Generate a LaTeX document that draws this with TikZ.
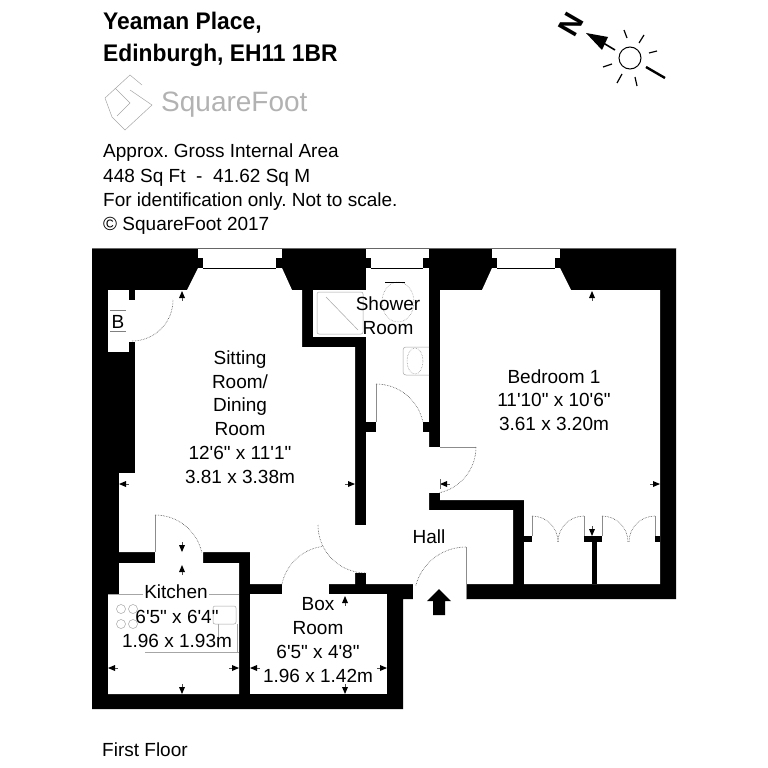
\documentclass[tikz,border=0pt]{standalone}
\usepackage{fontspec}
\newfontfamily\planfont{Liberation Sans}
\tikzset{
    wall/.style = {fill=black},
    room/.style = {fill=white},
    leaf/.style = {draw=black!45, line width=0.7pt},
    swing/.style = {draw=black!70, line width=0.6pt, densely dotted},
    fitting/.style = {draw=black!35, line width=0.5pt},
    label/.style = {font=\planfont\fontsize{19}{23.7}\selectfont, align=center, inner sep=0pt},
    note/.style = {font=\planfont\frenchspacing\fontsize{19}{24.2}\selectfont, align=left, anchor=north west, inner sep=0pt},
    title/.style = {font=\planfont\bfseries\fontsize{24}{32}\selectfont, align=left, anchor=north west, inner sep=0pt, xscale=0.95},
}
\begin{document}
\begin{tikzpicture}[x=1pt, y=-1pt]
    \useasboundingbox (0,0) rectangle (768,768);

    % walls, then the rooms cut out of them
    \fill[wall] (92,248) -- (676,248) -- (676,599) -- (403,599) -- (403,709) -- (92,709) -- cycle;
    \fill[room] (135,290) -- (187,290) -- (198,268) -- (282,268) -- (292,290) -- (302,290) -- (302,347)
        -- (355,347) -- (355,584) -- (250,584) -- (250,552) -- (203,552) -- (203,563) -- (155,563)
        -- (155,552) -- (119,552) -- (119,473) -- (135,473) -- cycle;
    \fill[room] (108,290) rectangle (129,352);
    \fill[room] (129,300) rectangle (136,342);
    \fill[room] (119,563) -- (239,563) -- (239,694) -- (108,694) -- (108,594) -- (119,594) -- cycle;
    \fill[room] (250,594) rectangle (387,694);
    \fill[room] (282,584) rectangle (329,595);
    \fill[room] (355,525) rectangle (367,573);
    \fill[room] (366,432) -- (429,432) -- (429,510) -- (513,510) -- (513,584) -- (366,584) -- cycle;
    \fill[room] (429,447) rectangle (441,493);
    \fill[room] (413,583) rectangle (466,600);
    \fill[room] (440,290) -- (482,290) -- (492,268) -- (560,268) -- (571,290) -- (660,290)
        -- (660,584) -- (524,584) -- (524,500) -- (440,500) -- cycle;
    \fill[room] (366,268) rectangle (429,422);
    \fill[room] (376,421) rectangle (423,433);
    \fill[room] (313,290) rectangle (367,337);

    % windows
    \foreach \a/\b/\c/\d in {198/203/276/282, 366/371/423/429, 492/497/555/560}{
        \fill[room] (\a,248) rectangle (\d,258);
        \fill[room] (\b,257) rectangle (\c,269);
        \draw[black, line width=0.6pt] (\b,268) -- (\c,268);
    }
    \draw[black!60, line width=0.6pt] (92,248) -- (676,248);

    % cupboards in the bedroom
    \fill[wall] (524,536) rectangle (532,542);
    \fill[wall] (584,536) rectangle (602,542);
    \fill[wall] (655,536) rectangle (660,542);
    \fill[wall] (592,542) rectangle (597,584);
    \foreach \a/\b in {532/584, 602/655}{
        \draw[leaf] (\a,536) -- (\a,516);
        \draw[leaf] (\b,536) -- (\b,516);
        \draw[swing] (\a,516) arc [start angle=-90, end angle=0, radius=26];
        \draw[swing] (\b,516) arc [start angle=-90, end angle=-180, radius=26];
    }

    % doors
    \draw[swing] (132,341) arc [start angle=90, end angle=0, radius=41];
    \draw[leaf] (155,552) -- (155,515);
    \draw[swing] (155,515) arc [start angle=-90, end angle=-13, radius=48];
    \draw[swing] (282,584) arc [start angle=-168, end angle=-97, radius=48];
    \draw[swing] (318,525) arc [start angle=180, end angle=90, radius=48];
    \draw[leaf] (376,422) -- (376,384);
    \draw[swing] (376,384) arc [start angle=-90, end angle=-13, radius=48];
    \draw[leaf] (440,447) -- (476,447);
    \draw[swing] (476,447) arc [start angle=0, end angle=78, radius=47];
    \draw[leaf] (466,599) -- (466,547);
    \draw[swing] (466,547) arc [start angle=-90, end angle=-165, radius=52];
    \fill[black] (439,589) -- (451,601) -- (445,601) -- (445,615) -- (433,615) -- (433,601) -- (427,601) -- cycle;

    % shower room fittings
    \draw[fitting, rounded corners=2pt] (317,292) rectangle (363,334);
    \draw[fitting] (326,297) -- (358,330);
    \draw[swing, draw=black!40] (398,302) ellipse (16 and 20);
    \draw[black, line width=0.5pt] (385,282) -- (405,282);
    \draw[fitting, rounded corners=3pt] (429,347) -- (403,347) -- (403,375) -- (429,375);
    \draw[swing, draw=black!40] (415,361) ellipse (8 and 13);

    % kitchen fittings
    \draw[fitting] (108,594) -- (239,594);
    \draw[fitting] (145,652) -- (239,652);
    \draw[fitting] (237,624) -- (237,652);
    \draw[fitting] (218,624) -- (218,648);
    \foreach \hx/\hy in {121/609, 133/609, 121/624, 133/624}{
        \draw[fitting] (\hx,\hy) circle (4.5);
    }
    \draw[fitting, rounded corners=2pt] (213,606) rectangle (236,624);

    % the little dimension tips
    \foreach \px/\py/\ang in {119/484/0, 355/484/180, 182/291/270, 440/484/0, 660/484/180, 592/291/270,
        592/536/90, 182/552/90, 182/565/270, 108/668/0, 239/668/180, 182/694/90,
        250/668/0, 387/668/180, 345/596/270, 345/694/90}{
        \begin{scope}[shift={(\px,\py)}, rotate=\ang]
            \fill[black] (0,0) -- (7,-3) -- (7,3) -- cycle;
            \draw[black!70, line width=0.5pt] (7,0) -- (10,0);
        \end{scope}
    }
    \draw[black!60, line width=0.5pt] (440,479) -- (440,489);

    % room names
    \node[label] (sitting) at (240,417) {Sitting\\Room/\\Dining\\Room\\12'6" x 11'1"\\3.81 x 3.38m};
    \node[label] (bedroom) at (554,400) {Bedroom 1\\11'10" x 10'6"\\3.61 x 3.20m};
    \node[label] (shower) at (388,316) {Shower\\Room};
    \node[label] (hall) at (429,537) {Hall};
    \node[label, fill=white, inner xsep=1pt, inner ysep=0pt] (kitchen) at (176,592) {Kitchen};
    \node[label] (kitchensize) at (177,629) {6'5" x 6'4"\\1.96 x 1.93m};
    \node[label] (box) at (318,640) {Box\\Room\\6'5" x 4'8"\\1.96 x 1.42m};
    \node[label] (boiler) at (118,322) {B};
    \draw[black!50, line width=0.5pt] (110,310) -- (126,310);
    \draw[black!50, line width=0.5pt] (110,331) -- (126,331);

    % heading and notes
    \node[title] (address) at (103,12) {Yeaman Place,\\Edinburgh, EH11 1BR};
    \node[note] (notes) at (103,144) {Approx. Gross Internal Area\\448 Sq Ft\ \ -\ \ 41.62 Sq M\\For identification only. Not to scale.\\© SquareFoot 2017};
    \node[label, anchor=base west] (floor) at (102,756) {First Floor};

    % logo
    \draw[black!35, line width=0.5pt] (105,98) -- (130,75) -- (142,85);
    \draw[black!35, line width=0.5pt] (115,88) -- (130,103) -- (117,116);
    \draw[black!35, line width=0.5pt] (130,90) -- (152,105) -- (125,130) -- (112,117) -- (105,98);
    \node[label, text=black!30, font=\planfont\fontsize{28}{28}\selectfont, anchor=west] (logo) at (161,105) {SquareFoot};

    % compass
    \draw[black, line width=1pt] (630,58) circle (11);
    \draw[black, line width=1.6pt] (600,41) -- (615,50);
    \fill[black] (586,33) -- (608,37) -- (602,50) -- cycle;
    \foreach \ax/\ay/\bx/\by in {624/30/627/38, 644/35/639/43, 657/51/649/53, 612/64/603/67, 622/74/617/83, 635/77/637/86}{
        \draw[black, line width=1.2pt] (\ax,\ay) -- (\bx,\by);
    }
    \draw[black, line width=2.4pt] (646,67) -- (665,78);
    \node[font=\planfont\bfseries\fontsize{29}{29}\selectfont, rotate=60, inner sep=0pt] (north) at (571,24) {N};
\end{tikzpicture}
\end{document}
